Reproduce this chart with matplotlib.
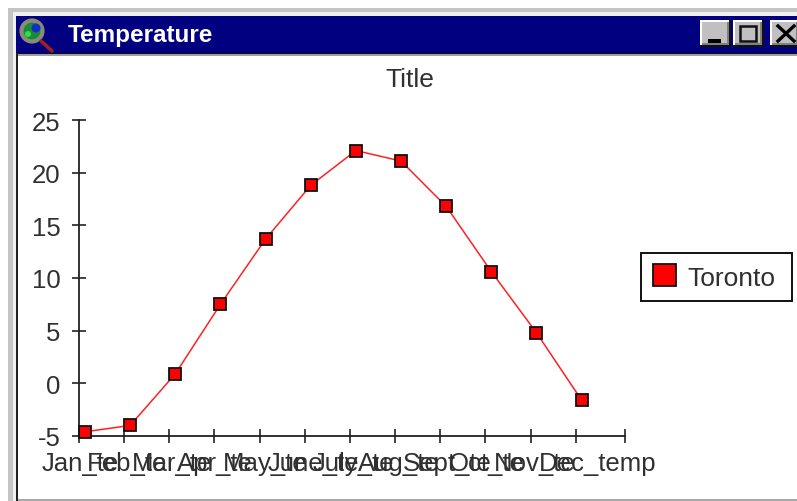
# Temperature window chart
import numpy as np
import matplotlib
matplotlib.use('Agg')
import matplotlib.pyplot as plt
from matplotlib.patches import Rectangle, Circle, Patch
from matplotlib.transforms import ScaledTranslation

plt.rcParams['font.family'] = ['Liberation Sans', 'DejaVu Sans']
plt.rcParams['axes.unicode_minus'] = False

# Data
# only the last label shows in full, the others are cut short in the window
months = ['Jan_te', 'Feb_te', 'Mar_te', 'Apr_te', 'May_te', 'June_te',
          'July_te', 'Aug_te', 'Sept_te', 'Oct_te', 'Nov_te', 'Dec_temp']
toronto = [-4.6, -4.0, 0.9, 7.5, 13.7, 18.8, 22.1, 21.1, 16.8, 10.6, 4.8, -1.6]
y_ticks = [-5, 0, 5, 10, 15, 20, 25]

W, H = 797, 502
text_color = '#303030'
fig = plt.figure(figsize=(W / 100, H / 100), dpi=100, facecolor='white')

# Window frame, drawn in pixel coordinates
chrome = fig.add_axes([0, 0, 1, 1], zorder=0)
chrome.set_xlim(0, W)
chrome.set_ylim(H, 0)
chrome.axis('off')


def box(x0, y0, x1, y1, color):
    chrome.add_patch(Rectangle((x0, y0), x1 - x0, y1 - y0, facecolor=color, edgecolor='none'))


box(8, 9, W, 13, '#c4c4c4')
box(8, 9, 13, H, '#c4c4c4')
box(13, 13, W, 17, '#f0f0f0')
box(13, 13, 16, H, '#f0f0f0')
box(16, 17, W, 54, '#000080')
box(16, 54, W, 55, '#101010')
box(16, 55, W, 57, '#a0a0a0')
box(16, 54, 18, H, '#202020')
box(18, 500, W, 502, '#a8a8a8')

# Title bar icon
chrome.plot([41, 52], [42, 52], color='#a02020', lw=2.6, solid_capstyle='round')
chrome.add_patch(Circle((32, 32), 10.5, facecolor='#1a8a3a', edgecolor='#8a8a78', lw=3))
chrome.add_patch(Circle((36, 29), 4.5, facecolor='#1030c0', edgecolor='none'))
chrome.add_patch(Circle((28, 35), 3, facecolor='#30e040', edgecolor='none'))
chrome.text(68, 35.5, 'Temperature', color='white', fontsize=17.5, fontweight='bold',
            ha='left', va='center')

# Window buttons
for x0, x1 in [(700, 731), (733, 764), (770, 800)]:
    box(x0, 21, x1, 48, '#101010')
    box(x0, 21, x1 - 2, 46, '#ffffff')
    box(x0 + 2, 23, x1 - 2, 46, '#808080')
    box(x0 + 2, 23, x1 - 4, 44, '#c0c0c0')
box(708, 40, 721, 44, '#000000')
chrome.add_patch(Rectangle((740, 27), 16, 15, facecolor='none', edgecolor='#101010', lw=1.8))
chrome.plot([778, 794], [27, 42], color='black', lw=2.4)
chrome.plot([794, 778], [27, 42], color='black', lw=2.4)

# Plot area
left, right, top, bottom = 79, 625, 121, 437
ax = fig.add_axes([left / W, 1 - bottom / H, (right - left) / W, (bottom - top) / H], zorder=1)
ax.patch.set_alpha(0)

x = np.arange(len(months))
step = 45.15
first = 85
ax.plot(x, toronto, color='#ff2020', lw=1.1, marker='s', markersize=9.3,
        markerfacecolor='#ff0000', markeredgecolor='#101010', markeredgewidth=1.3,
        clip_on=False, zorder=5)

ax.set_xlim((left - first) / step, (right - first) / step)
ax.set_ylim(-5, 25)

tick_pos = list(x - (first - left) / step) + [(right - first) / step]
ax.set_xticks(tick_pos)
ax.set_xticklabels(months + [''])
ax.set_yticks(y_ticks)

ax.spines['top'].set_visible(False)
ax.spines['right'].set_visible(False)
for side in ['left', 'bottom']:
    ax.spines[side].set_linewidth(1.3)
    ax.spines[side].set_color('#222222')
ax.tick_params(axis='both', direction='inout', length=10.5, width=1.2, color='#222222',
               labelsize=18.5, labelcolor=text_color)
ax.tick_params(axis='y', pad=8)
ax.tick_params(axis='x', pad=5.5)

# Month labels start left of their tick and run over one another
shift = ScaledTranslation(-37 / 100, 0, fig.dpi_scale_trans)
for label in ax.get_xticklabels():
    label.set_ha('left')
    label.set_transform(label.get_transform() + shift)

fig.text(410 / W, 1 - 80 / H, 'Title', fontsize=19, color=text_color, ha='center', va='center',
         zorder=3)

# Legend, stretched to the width of the box
handle = Patch(facecolor='#ff0000', edgecolor='#101010', linewidth=1.3, label='Toronto')
leg = fig.legend(handles=[handle], loc='center left', mode='expand',
                 bbox_to_anchor=(641 / W, 1 - 302 / H, 151 / W, 48 / H),
                 fontsize=19, fancybox=False, framealpha=1, edgecolor='#101010',
                 handlelength=0.9, handleheight=0.9, handletextpad=0.42,
                 borderpad=0.44, borderaxespad=0, labelcolor=text_color)
leg.get_frame().set_linewidth(1.4)
leg.set_zorder(4)

fig.savefig('out.png', dpi=100)
